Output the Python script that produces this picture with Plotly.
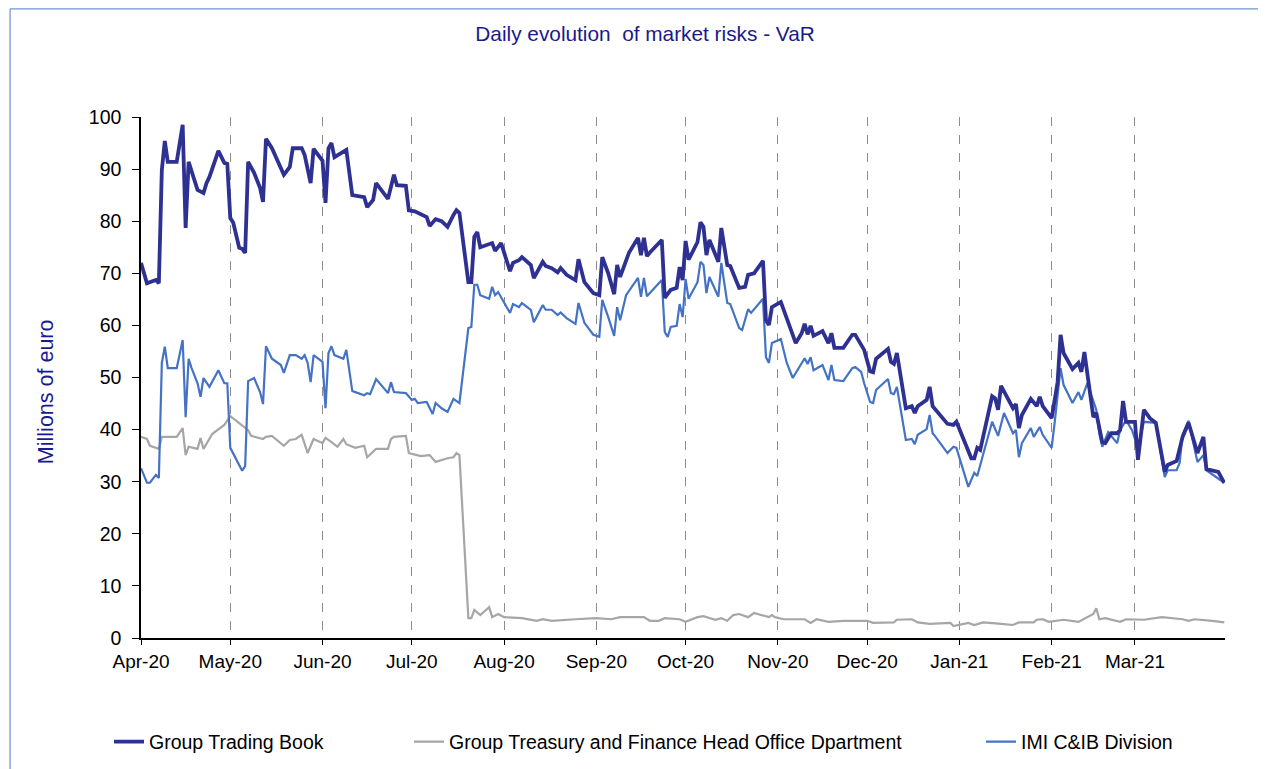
import pandas as pd
import plotly.graph_objects as go

START = "2020-04-01"

# Group Trading Book (day offset from 1 Apr 2020, VaR in millions of euro)
gtb_days = [0, 2, 5, 6, 7, 8, 9, 12, 14, 15, 16, 17, 19, 21, 22, 23, 26, 28, 29, 30, 31, 33, 34, 35, 36, 38, 40, 41, 42, 44, 47, 48, 50, 51, 54, 55, 57, 58, 61, 62, 63, 64, 65, 69, 71, 75, 76, 78, 79, 83, 85, 86, 89, 90, 92, 93, 96, 97, 99, 101, 103, 105, 106, 107, 110, 111, 112, 113, 114, 118, 119, 121, 124, 125, 127, 128, 131, 132, 135, 136, 138, 140, 141, 143, 146, 147, 149, 152, 154, 155, 157, 159, 160, 161, 164, 167, 168, 169, 170, 171, 175, 176, 177, 178, 180, 181, 182, 183, 184, 187, 188, 189, 190, 191, 194, 195, 197, 198, 201, 203, 204, 206, 209, 210, 211, 212, 215, 218, 220, 222, 223, 224, 225, 226, 229, 231, 232, 233, 236, 239, 240, 243, 245, 246, 247, 251, 252, 253, 254, 257, 259, 260, 261, 264, 265, 266, 271, 273, 274, 279, 280, 281, 282, 286, 287, 288, 289, 293, 294, 295, 296, 299, 301, 302, 303, 306, 308, 309, 310, 313, 315, 316, 317, 320, 321, 323, 324, 326, 328, 329, 330, 331, 334, 335, 337, 339, 341, 344, 345, 348, 350, 352, 355, 357, 358, 362, 364]
gtb_vals = [72, 68.1, 68.7, 68.1, 89.8, 95.4, 91.4, 91.4, 98.5, 78.7, 91.4, 89.4, 86, 85.4, 87.3, 88.5, 93.5, 91.2, 91, 80.6, 79.7, 74.9, 74.7, 73.9, 91.4, 89.3, 86.4, 83.7, 95.8, 94, 90.4, 88.9, 90.4, 94, 94, 92.7, 87.3, 93.9, 91.6, 83.5, 94, 95, 92.3, 93.7, 85, 84.6, 82.7, 84.1, 87.3, 84.3, 88.9, 86.9, 86.8, 82.1, 81.9, 81.6, 80.8, 79.1, 80.4, 80, 78.9, 81.2, 82.1, 81.6, 68.3, 68.3, 77, 77.9, 75, 75.8, 74.3, 75.8, 70.4, 72, 72.5, 73.1, 71.6, 69.1, 72.2, 71.4, 71, 70.2, 71, 69.7, 68.7, 72.7, 68.3, 66.2, 65.8, 73.1, 70, 66, 71.6, 69.3, 74, 76.8, 73.5, 76.8, 73.3, 74, 76.4, 65.3, 66.2, 66.8, 67.2, 71.2, 68.7, 76.2, 72.6, 76, 79.8, 78.9, 73.5, 76.4, 72.2, 78.7, 71.6, 71.4, 67.2, 67.4, 69.7, 70, 72.4, 61, 60.1, 63.5, 64.5, 59.7, 56.6, 58.5, 60.3, 58.3, 59.9, 58, 58.9, 56.6, 58.5, 55.7, 55.7, 58.2, 58.2, 55.3, 51.2, 51, 53.6, 55.5, 53, 52.6, 54.7, 44.1, 44.5, 43.2, 44.5, 45.7, 48.2, 44.5, 41.1, 40.9, 41.5, 34.5, 34.5, 36.5, 36.1, 46.4, 46, 43.8, 48.4, 44.1, 44.9, 40.3, 42.8, 45.9, 44.5, 46.3, 44.5, 42.2, 49.1, 58.2, 54.7, 51.6, 52.8, 51.1, 54.9, 42.4, 43.2, 37.6, 37.4, 39.3, 39.3, 39.9, 45.5, 41.5, 41.5, 34.2, 43.8, 42.2, 41.3, 31.9, 33.2, 34, 38.6, 41.3, 35.5, 38.6, 32.4, 31.9, 29.8]

# Group Treasury and Finance Head Office Department
gtf_days = [0, 2, 3, 5, 6, 7, 12, 14, 15, 16, 19, 20, 21, 24, 28, 30, 34, 36, 37, 41, 42, 44, 48, 50, 52, 54, 56, 58, 61, 62, 64, 66, 68, 69, 72, 75, 76, 77, 79, 83, 84, 85, 89, 90, 94, 97, 99, 103, 105, 106, 107, 110, 111, 112, 114, 117, 118, 120, 122, 128, 133, 135, 138, 146, 153, 158, 161, 169, 171, 174, 176, 181, 183, 187, 189, 193, 195, 197, 199, 201, 204, 206, 209, 211, 212, 213, 216, 223, 225, 227, 231, 234, 236, 244, 246, 253, 254, 259, 261, 265, 272, 273, 278, 280, 283, 289, 293, 295, 300, 301, 303, 305, 310, 315, 320, 321, 322, 324, 329, 331, 337, 343, 350, 352, 354, 360, 364]
gtf_vals = [38.6, 38.2, 36.9, 36.5, 36.3, 38.6, 38.6, 40.3, 35.1, 36.7, 36.3, 38.4, 36.3, 39.2, 40.9, 42.6, 40.7, 39.9, 38.8, 38.2, 38.6, 38.8, 36.9, 38, 38.2, 39, 35.5, 38.2, 37.4, 38.4, 37.6, 36.7, 38.2, 37.2, 36.5, 36.9, 34.7, 35.3, 36.3, 36.3, 38.2, 38.6, 38.8, 35.5, 34.9, 35.1, 33.8, 34.5, 34.7, 35.5, 35.1, 3.8, 3.8, 5.4, 4.4, 5.9, 4.0, 4.6, 4.0, 3.8, 3.3, 3.6, 3.3, 3.6, 3.8, 3.6, 4.0, 4.0, 3.3, 3.3, 3.8, 3.6, 3.1, 4.0, 4.2, 3.5, 3.8, 3.3, 4.4, 4.6, 4.0, 4.8, 4.4, 4.0, 4.4, 4.0, 3.6, 3.6, 2.9, 3.6, 3.1, 3.3, 3.3, 3.3, 2.9, 3.0, 3.5, 3.6, 3.0, 2.7, 2.9, 2.3, 2.9, 2.5, 3.0, 2.7, 2.5, 3.0, 3.0, 3.5, 3.6, 3.1, 3.5, 3.1, 4.6, 5.7, 3.6, 3.8, 3.1, 3.6, 3.5, 4.0, 3.6, 3.3, 3.6, 3.3, 3.0]

# IMI C&IB Division
imi_days = [0, 2, 3, 5, 6, 7, 8, 9, 12, 14, 15, 16, 17, 19, 20, 21, 23, 26, 28, 29, 30, 34, 35, 36, 38, 40, 41, 42, 44, 47, 48, 50, 52, 54, 55, 56, 57, 58, 61, 62, 63, 64, 65, 68, 69, 71, 72, 75, 76, 77, 79, 83, 84, 85, 89, 91, 92, 93, 96, 98, 99, 101, 103, 105, 107, 110, 111, 112, 113, 114, 117, 118, 119, 120, 124, 125, 127, 128, 131, 132, 135, 136, 138, 140, 141, 143, 146, 147, 149, 152, 154, 155, 157, 159, 160, 161, 163, 167, 168, 169, 170, 175, 176, 177, 178, 180, 181, 182, 183, 184, 187, 188, 189, 190, 191, 194, 195, 197, 198, 201, 202, 204, 205, 209, 210, 211, 212, 215, 217, 219, 223, 224, 225, 226, 229, 231, 232, 233, 236, 239, 240, 242, 243, 245, 246, 247, 251, 252, 253, 254, 257, 259, 260, 261, 264, 265, 266, 267, 271, 273, 274, 278, 280, 281, 286, 288, 290, 293, 294, 295, 296, 299, 300, 302, 303, 306, 307, 309, 310, 313, 315, 316, 318, 321, 322, 323, 325, 328, 329, 331, 333, 335, 337, 341, 344, 345, 348, 349, 350, 352, 355, 357, 358, 364]
imi_vals = [32.6, 29.8, 29.8, 31.3, 30.7, 52.8, 55.9, 51.8, 51.8, 57.2, 42.4, 53.6, 51.8, 48.9, 46.3, 49.9, 48.2, 51.4, 48.9, 48.9, 36.5, 32.1, 33, 49.3, 49.9, 47.2, 44.9, 56, 53.6, 52.4, 50.9, 54.3, 54.3, 53.6, 54.3, 52.8, 49.1, 54.3, 53, 44.1, 54.7, 56, 54.3, 53.6, 55.3, 47.4, 47.2, 46.6, 47, 46.8, 49.7, 47, 49.1, 47.2, 47, 45.7, 45.9, 45.1, 45.3, 43, 45.1, 44.1, 43.4, 45.9, 45.1, 59.5, 59.7, 67.8, 67.8, 65.8, 65.1, 67.4, 65.8, 66.4, 62.4, 64.1, 63.5, 64.3, 63, 60.6, 63.9, 63, 63, 62, 62.5, 61.4, 60.3, 64.3, 60.5, 58.2, 57.8, 64.9, 61.6, 58, 63.5, 61, 65.8, 69.1, 65.5, 69.1, 65.6, 68.7, 58.7, 57.8, 59.7, 59.9, 64.1, 61.6, 68.9, 65.1, 68.3, 72.2, 71.6, 66.2, 69.3, 65.5, 72, 64.3, 64.1, 59.5, 59.1, 63.1, 62.4, 65.1, 53.9, 52.8, 56.6, 57.4, 52.8, 49.9, 53.7, 52.6, 53.9, 51.4, 52.4, 49.5, 52.4, 49.5, 49.3, 51.8, 52, 51.1, 48.9, 45.3, 45.1, 47.6, 49.7, 47, 46.8, 48.2, 38, 38.2, 37.2, 39, 40.1, 42.8, 39.3, 38.6, 35.5, 36.7, 36.5, 29, 31.7, 31.1, 41.5, 38.8, 43.2, 39.3, 39.9, 34.7, 37.4, 40.3, 38.6, 40.5, 39, 36.5, 41.3, 51.8, 48.6, 45.1, 47.2, 45.7, 48.9, 43.8, 39.3, 36.7, 39.5, 37.4, 39.9, 41.8, 39.9, 36.5, 41.5, 41.3, 30.9, 32.2, 32.2, 33.6, 39, 41.7, 33.8, 35.1, 32.2, 29.8]

names = ["Group Trading Book", "Group Treasury and Finance Head Office Dpartment", "IMI C&IB Division"]
y_ticks = list(range(0, 101, 10))


def to_dates(days):
    return pd.Timestamp(START) + pd.to_timedelta(days, unit="D")


FONT = "Liberation Sans, Arial, sans-serif"
NAVY = "#1A1A8C"

fig = go.Figure()
fig.add_trace(go.Scatter(x=to_dates(gtf_days), y=gtf_vals, mode="lines", name=names[1],
                         line=dict(color="#A6A6A6", width=2.2), legend="legend2", showlegend=True))
fig.add_trace(go.Scatter(x=to_dates(imi_days), y=imi_vals, mode="lines", name=names[2],
                         line=dict(color="#4472C4", width=2.2), legend="legend3", showlegend=True))
fig.add_trace(go.Scatter(x=to_dates(gtb_days), y=gtb_vals, mode="lines", name=names[0],
                         line=dict(color="#2E3192", width=3.8), legend="legend", showlegend=True))

LEG_Y = 1 - (742 - 8) / 761
leg_common = dict(orientation="h", yanchor="middle", xanchor="left", yref="container", y=LEG_Y,
                  font=dict(family=FONT, size=19.5, color="#000000"), bgcolor="rgba(0,0,0,0)")

fig.update_layout(
    width=1258, height=761,
    margin=dict(l=133, r=41, t=109, b=131),
    paper_bgcolor="white", plot_bgcolor="white",
    showlegend=True,
    font=dict(family=FONT, size=19, color="#000000"),
    title=dict(text="Daily evolution  of market risks - VaR", xref="container", yref="container",
               x=0.5064, y=0.9658, xanchor="center", yanchor="middle",
               font=dict(family=FONT, size=20.8, color=NAVY)),
    legend=dict(x=-0.0295, **leg_common),
    legend2=dict(x=0.2472, **leg_common),
    legend3=dict(x=0.7749, **leg_common),
    xaxis=dict(
        type="date",
        range=[pd.Timestamp(START), pd.Timestamp("2021-03-31 06:00")],
        tick0=START, dtick="M1", tickformat="%b-%y",
        ticks="outside", ticklen=5, tickcolor="#000000",
        showline=True, linecolor="#000000", linewidth=1.5,
        showgrid=True, gridcolor="#8C8C8C", griddash="dash", gridwidth=1,
        zeroline=False, tickfont=dict(size=19),
    ),
    yaxis=dict(
        range=[0, 100], tickvals=y_ticks,
        ticks="outside", ticklen=7, tickcolor="#000000", ticklabelstandoff=7,
        showline=True, linecolor="#000000", linewidth=1.5,
        showgrid=False, zeroline=False, tickfont=dict(size=19.5),
    ),
    shapes=[dict(type="rect", xref="paper", yref="paper", x0=-0.1208, y0=-0.4, x1=1.2, y1=1.2075,
                 line=dict(color="#4A7CC9", width=1), fillcolor="rgba(0,0,0,0)", layer="below")],
    annotations=[dict(text="Millions of euro", xref="paper", yref="paper", x=-0.0876, y=0.472,
                      textangle=-90, showarrow=False, xanchor="center", yanchor="middle",
                      font=dict(family=FONT, size=21.5, color=NAVY))],
)

fig.write_html("out.html")
